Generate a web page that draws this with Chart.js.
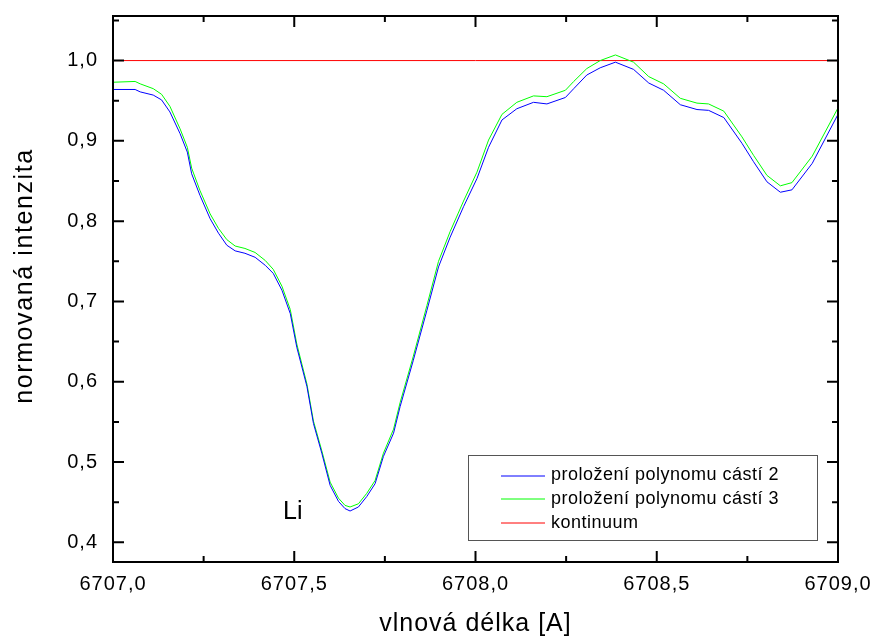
<!DOCTYPE html>
<html>
<head>
<meta charset="utf-8">
<script src="https://cdn.jsdelivr.net/npm/chart.js@4/dist/chart.umd.min.js"></script>
<style>
  html, body { margin: 0; padding: 0; background: #fff; }
  canvas { display: block; }
</style>
</head>
<body>
<canvas id="chart" width="874" height="641"></canvas>
<script>
// wavelength grid [A] shared by both fits
const wavelength = [
  6707.000, 6707.061, 6707.075, 6707.111, 6707.134, 6707.157, 6707.185, 6707.205,
  6707.217, 6707.240, 6707.268, 6707.291, 6707.314, 6707.337, 6707.364, 6707.392,
  6707.420, 6707.442, 6707.466, 6707.489, 6707.507, 6707.535, 6707.553, 6707.576,
  6707.599, 6707.622, 6707.640, 6707.654, 6707.677, 6707.700, 6707.723, 6707.746,
  6707.774, 6707.792, 6707.828, 6707.866, 6707.898, 6707.930, 6707.967, 6708.004,
  6708.036, 6708.073, 6708.114, 6708.160, 6708.197, 6708.248, 6708.271, 6708.307,
  6708.344, 6708.386, 6708.436, 6708.478, 6708.519, 6708.565, 6708.611, 6708.643,
  6708.685, 6708.735, 6708.767, 6708.804, 6708.841, 6708.873, 6708.929, 6709.000
];
const fitPart2 = [
  0.964, 0.964, 0.961, 0.957, 0.951, 0.936, 0.909, 0.886,
  0.859, 0.832, 0.803, 0.785, 0.770, 0.763, 0.760, 0.755,
  0.745, 0.735, 0.714, 0.685, 0.643, 0.594, 0.548, 0.511,
  0.471, 0.451, 0.442, 0.439, 0.444, 0.457, 0.473, 0.507,
  0.536, 0.569, 0.626, 0.689, 0.743, 0.780, 0.818, 0.853,
  0.892, 0.926, 0.940, 0.948, 0.946, 0.954, 0.965, 0.982,
  0.991, 0.998, 0.989, 0.972, 0.963, 0.945, 0.939, 0.938,
  0.929, 0.897, 0.874, 0.849, 0.836, 0.839, 0.872, 0.933
];
const fitPart3 = [
  0.973, 0.974, 0.971, 0.965, 0.958, 0.943, 0.915, 0.892,
  0.866, 0.838, 0.809, 0.791, 0.777, 0.769, 0.766, 0.761,
  0.751, 0.740, 0.719, 0.690, 0.647, 0.597, 0.551, 0.514,
  0.475, 0.455, 0.446, 0.444, 0.448, 0.461, 0.477, 0.511,
  0.541, 0.574, 0.631, 0.695, 0.750, 0.787, 0.825, 0.861,
  0.901, 0.933, 0.948, 0.956, 0.955, 0.963, 0.974, 0.990,
  1.000, 1.007, 0.998, 0.980, 0.971, 0.953, 0.947, 0.946,
  0.937, 0.905, 0.882, 0.857, 0.844, 0.848, 0.881, 0.941
];
const continuumX = [6707.0, 6709.0];
const continuumY = [1.0, 1.0];

const seriesNames = ["proložení polynomu cástí 2", "proložení polynomu cástí 3", "kontinuum"];
const seriesColors = ["#0000ff", "#00ff00", "#ff0000"];

const xMajor = [6707.0, 6707.5, 6708.0, 6708.5, 6709.0];
const xMinor = [6707.25, 6707.75, 6708.25, 6708.75];
const yMajor = [0.4, 0.5, 0.6, 0.7, 0.8, 0.9, 1.0];
const yMinor = [0.45, 0.55, 0.65, 0.75, 0.85, 0.95, 1.05];

const comma = v => Number(v).toFixed(1).replace(".", ",");
const pts = (xs, ys) => xs.map((x, i) => ({ x, y: ys[i] }));
const FONT = "'Liberation Sans', Arial, sans-serif";

const framePlugin = {
  id: "frame",
  beforeDraw(chart) { chart.ctx.letterSpacing = "1px"; },
  afterDatasetsDraw(chart) {
    const { ctx, chartArea: a, scales: { x, y } } = chart;
    ctx.save();
    ctx.letterSpacing = "0px";
    ctx.strokeStyle = "#000";
    ctx.lineWidth = 2;
    ctx.strokeRect(a.left, a.top, a.right - a.left, a.bottom - a.top);
    const tick = (px, len, horiz) => {
      ctx.beginPath();
      if (horiz) {
        ctx.moveTo(px, a.bottom); ctx.lineTo(px, a.bottom - len);
        ctx.moveTo(px, a.top); ctx.lineTo(px, a.top + len);
      } else {
        ctx.moveTo(a.left, px); ctx.lineTo(a.left + len, px);
        ctx.moveTo(a.right, px); ctx.lineTo(a.right - len, px);
      }
      ctx.stroke();
    };
    xMajor.forEach(v => tick(x.getPixelForValue(v), 11, true));
    xMinor.forEach(v => tick(x.getPixelForValue(v), 6, true));
    yMajor.forEach(v => tick(y.getPixelForValue(v), 11, false));
    yMinor.forEach(v => tick(y.getPixelForValue(v), 6, false));

    // y axis title, drawn by hand to sit where the original has it
    ctx.fillStyle = "#000";
    ctx.save();
    ctx.translate(25, 276);
    ctx.rotate(-Math.PI / 2);
    ctx.font = "25px " + FONT;
    ctx.letterSpacing = "1.6px";
    ctx.textAlign = "center";
    ctx.textBaseline = "middle";
    ctx.fillText("normovaná intenzita", 0, 0);
    ctx.restore();

    // line annotation
    ctx.font = "25px " + FONT;
    ctx.textAlign = "left";
    ctx.textBaseline = "alphabetic";
    ctx.fillText("Li", 283, 519);

    // legend box
    ctx.lineWidth = 1;
    ctx.strokeStyle = "#555";
    ctx.fillStyle = "#fff";
    ctx.fillRect(468.5, 455.5, 349, 85);
    ctx.strokeRect(468.5, 455.5, 349, 85);
    ctx.font = "18px " + FONT;
    ctx.letterSpacing = "0.5px";
    ctx.textBaseline = "middle";
    seriesNames.forEach((name, i) => {
      const yy = 475.5 + i * 23.7;
      ctx.strokeStyle = seriesColors[i];
      ctx.beginPath();
      ctx.moveTo(501, Math.round(yy));
      ctx.lineTo(545, Math.round(yy));
      ctx.stroke();
      ctx.fillStyle = "#000";
      ctx.fillText(name, 551, yy);
    });
    ctx.restore();
  },
  afterDraw(chart) { chart.ctx.letterSpacing = "0px"; }
};

new Chart(document.getElementById("chart"), {
  type: "line",
  data: {
    datasets: [
      { label: seriesNames[0], data: pts(wavelength, fitPart2), borderColor: seriesColors[0] },
      { label: seriesNames[1], data: pts(wavelength, fitPart3), borderColor: seriesColors[1] },
      { label: seriesNames[2], data: pts(continuumX, continuumY), borderColor: seriesColors[2] }
    ].map(d => ({ ...d, borderWidth: 1, pointRadius: 0, tension: 0, fill: false }))
  },
  options: {
    responsive: false,
    animation: false,
    events: [],
    layout: { padding: { left: 0, top: 16, right: 36, bottom: 0 } },
    plugins: { legend: { display: false }, tooltip: { enabled: false } },
    scales: {
      x: {
        type: "linear", min: 6707.0, max: 6709.0,
        afterBuildTicks: s => { s.ticks = xMajor.map(value => ({ value })); },
        afterFit: s => { s.height = 79; s.paddingLeft = 0; s.paddingRight = 0; },
        grid: { display: false, drawTicks: false },
        border: { display: false },
        ticks: { color: "#000", padding: 10, maxRotation: 0, font: { family: FONT, size: 20 }, callback: comma },
        title: { display: true, text: "vlnová délka [A]", color: "#000", font: { family: FONT, size: 25 }, padding: { top: 0, bottom: 2 } }
      },
      y: {
        type: "linear", min: 0.3755, max: 1.0555,
        afterBuildTicks: s => { s.ticks = yMajor.map(value => ({ value })); },
        afterFit: s => { s.width = 113; s.paddingTop = 0; s.paddingBottom = 0; },
        grid: { display: false, drawTicks: false },
        border: { display: false },
        ticks: { color: "#000", padding: 15, font: { family: FONT, size: 20 }, callback: comma }
      }
    }
  },
  plugins: [framePlugin]
});
</script>
</body>
</html>
